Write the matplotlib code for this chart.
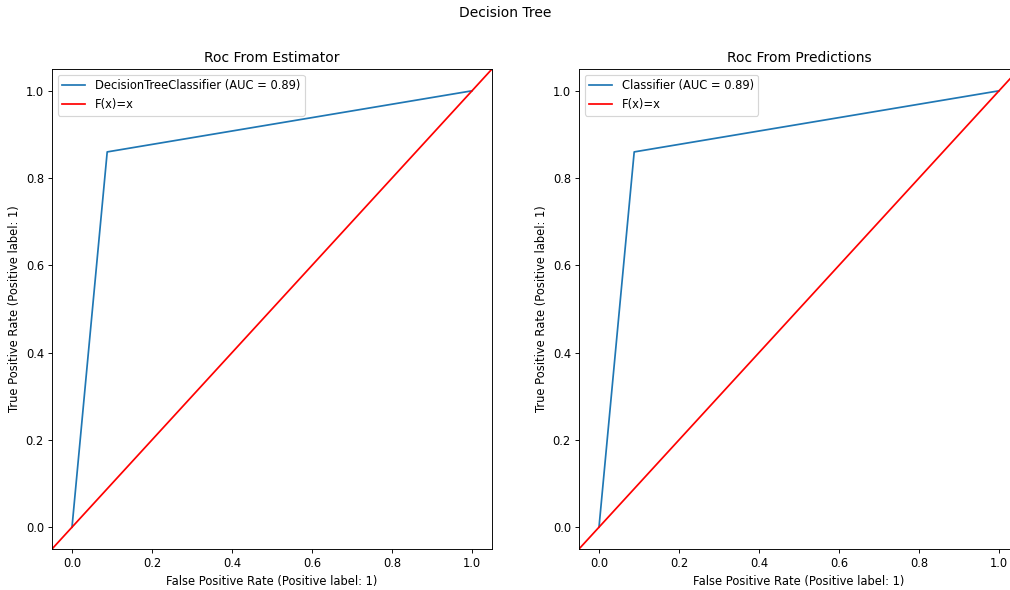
import numpy as np
import matplotlib
matplotlib.use("Agg")
import matplotlib.pyplot as plt

# ROC curve points for the decision tree
fpr = [0.0, 0.088, 1.0]
tpr = [0.0, 0.86, 1.0]
auc = float(np.trapezoid(tpr, fpr))

titles = ["Roc From Estimator", "Roc From Predictions"]
names = ["DecisionTreeClassifier", "Classifier"]

W, H = 1010, 590
DPI = 83
fig = plt.figure(figsize=(W / DPI, H / DPI), dpi=DPI)
fig.suptitle("Decision Tree", y=1 - 13 / H, va="center")

lefts = [52, 579]
for left, title, name in zip(lefts, titles, names):
    ax = fig.add_axes([left / W, 41 / H, 440 / W, 480 / H])
    ax.plot(fpr, tpr, color="#1f77b4", label=f"{name} (AUC = {auc:.2f})")
    ax.axline((0, 0), slope=1, color="red", label="F(x)=x")
    ax.set_xlim(-0.05, 1.05)
    ax.set_ylim(-0.05, 1.05)
    ax.set_xticks(np.arange(0, 1.01, 0.2))
    ax.set_yticks(np.arange(0, 1.01, 0.2))
    ax.set_xlabel("False Positive Rate (Positive label: 1)")
    ax.set_ylabel("True Positive Rate (Positive label: 1)")
    ax.set_title(title)
    ax.legend(loc="upper left")

fig.savefig("out.png", dpi=DPI)
